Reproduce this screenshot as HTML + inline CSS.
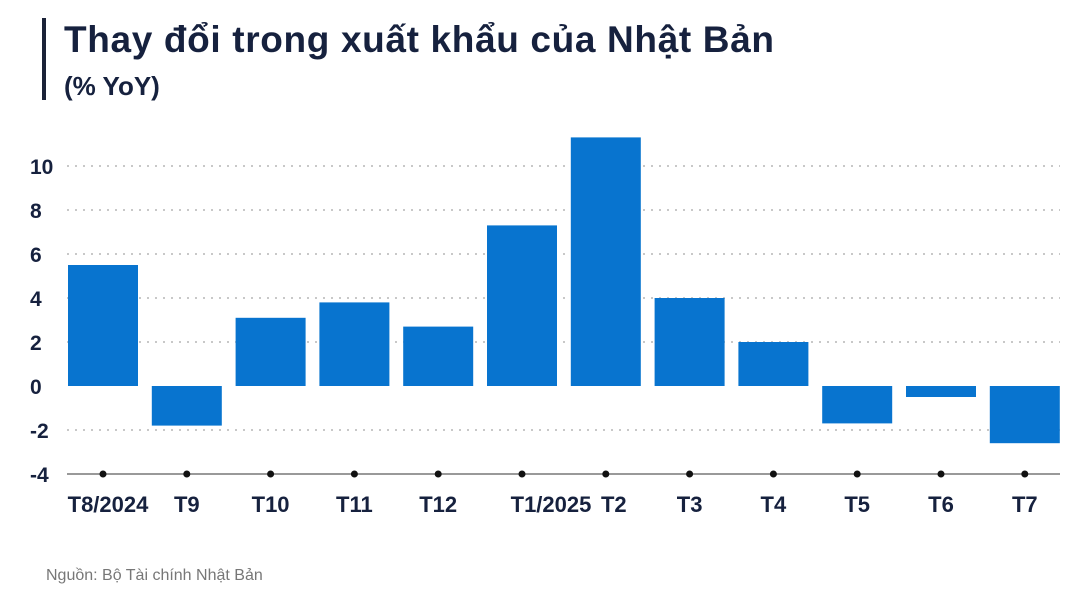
<!DOCTYPE html>
<html><head><meta charset="utf-8"><style>
body{margin:0;background:#fff;width:1081px;height:602px;overflow:hidden;font-family:"Liberation Sans",sans-serif}
</style></head><body>
<svg width="1081" height="602">
<rect x="42" y="18" width="4" height="82" fill="#1b2238"/>
<text x="64" y="52" font-size="37" font-weight="bold" fill="#16213e" textLength="710">Thay đổi trong xuất khẩu của Nhật Bản</text>
<text x="64" y="95" font-size="26" font-weight="bold" fill="#16213e">(% YoY)</text>
<g id="grid"></g><g id="bars"></g><g id="axis"></g>
<text x="46" y="580" font-size="16" fill="#777">Nguồn: Bộ Tài chính Nhật Bản</text>
</svg>
<script>
const categories=["T8/2024","T9","T10","T11","T12","T1/2025","T2","T3","T4","T5","T6","T7"];
const values=[5.5,-1.8,3.1,3.8,2.7,7.3,11.3,4.0,2.0,-1.7,-0.5,-2.6];
const yTicks=[-4,-2,0,2,4,6,8,10];
const NS="http://www.w3.org/2000/svg";
const y=v=>386-v*22;
const xc=i=>103+i*83.8;
const bw=70;
const labelShift=[5,0,0,0,0,29,8,0,0,0,0,0];
function mk(tag,attrs,parent){const e=document.createElementNS(NS,tag);for(const k in attrs)e.setAttribute(k,attrs[k]);document.getElementById(parent).appendChild(e);return e;}
yTicks.forEach(t=>{
 if(t>-4&&t!==0){const g=mk('line',{x1:67,x2:1060,y1:y(t),y2:y(t),stroke:'#c8c8c8','stroke-width':2,'stroke-dasharray':'2 6'},'grid');
 
 }
 const l=mk('text',{x:30,y:y(t)+8,'font-size':21,'font-weight':'bold',fill:'#16213e'},'axis');
 l.textContent=t;
 
 
});
values.forEach((v,i)=>{
 const r=mk('rect',{x:xc(i)-bw/2,y:Math.min(y(v),y(0)),width:bw,height:Math.abs(y(v)-y(0)),fill:'#0874cf'},'bars');
 
 
});
const ax=mk('line',{x1:67,x2:1060,y1:y(-4),y2:y(-4),stroke:'#999','stroke-width':2},'axis');


categories.forEach((c,i)=>{
 const d=mk('circle',{cx:xc(i),cy:y(-4),r:3.5,fill:'#111'},'axis');
 
 
 const t=mk('text',{x:xc(i)+labelShift[i],y:512,'font-size':22,'font-weight':'bold',fill:'#16213e','text-anchor':'middle'},'axis');
 t.textContent=c;
 
 
});
</script>
</body></html>
